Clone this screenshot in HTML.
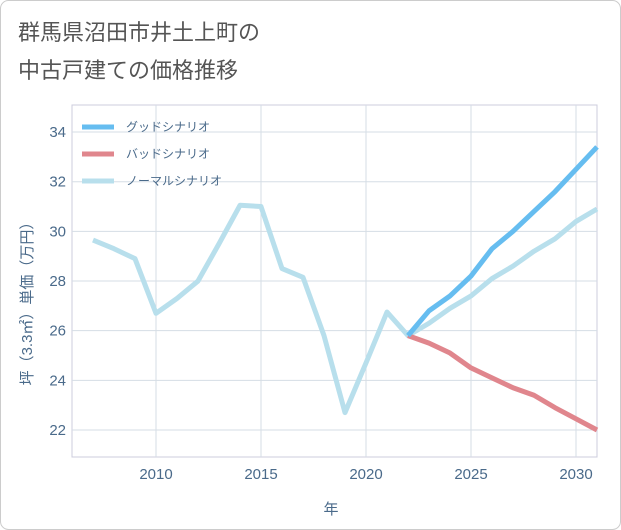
<!DOCTYPE html>
<html><head><meta charset="utf-8"><style>
body{margin:0;background:#fff;}
svg{display:block;font-family:"Liberation Sans","Noto Sans CJK JP",sans-serif;}
</style></head><body>
<svg id="c" width="621" height="530">
<rect x="0.5" y="0.5" width="620" height="529" rx="8" fill="#fff" stroke="#ccc"/>
<text x="18" y="40" font-size="22" fill="#555">群馬県沼田市井土上町の</text>
<text x="18" y="78" font-size="22" fill="#555">中古戸建ての価格推移</text>
<g id="grid"></g><g id="series"></g><g id="legend"></g>
<text x="331" y="514" font-size="15" fill="#4a6a8a" text-anchor="middle">年</text>
<text transform="translate(32,300) rotate(-90)" font-size="15" fill="#4a6a8a" text-anchor="middle">坪（3.3㎡）単価（万円）</text>
</svg>
<script>
const years=[2007,2008,2009,2010,2011,2012,2013,2014,2015,2016,2017,2018,2019,2020,2021,2022,2023,2024,2025,2026,2027,2028,2029,2030,2031];
const normalVals=[29.65,29.3,28.9,26.7,27.3,28.0,29.5,31.05,31.0,28.5,28.15,25.8,22.7,24.7,26.75,25.8,26.3,26.9,27.4,28.1,28.6,29.2,29.7,30.4,30.9];
const futureYears=[2022,2023,2024,2025,2026,2027,2028,2029,2030,2031];
const goodVals=[25.8,26.8,27.4,28.2,29.3,30.0,30.8,31.6,32.5,33.4];
const badVals=[25.8,25.5,25.1,24.5,24.1,23.7,23.4,22.9,22.45,22.0];
const xTicks=[2010,2015,2020,2025,2030];
const yTicks=[22,24,26,28,30,32,34];
const NS="http://www.w3.org/2000/svg";
const L=72,R=597,T=105,B=457;
const xs=y=>156+(y-2010)*21;
const ys=v=>430-(v-22)*24.83;
function mk(tag,attrs,parent){const e=document.createElementNS(NS,tag);for(const k in attrs)e.setAttribute(k,attrs[k]);parent.appendChild(e);return e;}
const g=document.getElementById('grid');
mk('rect',{x:L,y:T,width:R-L,height:B-T,fill:'none',stroke:'#ccd'},g);
xTicks.forEach(t=>{
 const l=mk('line',{x1:xs(t),x2:xs(t),y1:T,y2:B,stroke:'#d5dde5'},g);
 
 
 const tx=mk('text',{x:xs(t),y:B+22,'font-size':15,fill:'#4a6a8a','text-anchor':'middle'},g);tx.textContent=t;
 
 
});
yTicks.forEach(t=>{
 const l=mk('line',{x1:L,x2:R,y1:ys(t),y2:ys(t),stroke:'#d5dde5'},g);
 
 
 const tx=mk('text',{x:L-6,y:ys(t)+5,'font-size':15,fill:'#4a6a8a','text-anchor':'end'},g);tx.textContent=t;
 
 
});
const s=document.getElementById('series');
function line(xv,yv,color,name){
 const d=xv.map((x,i)=>(i?'L':'M')+xs(x)+','+ys(yv[i])).join(' ');
 const p=mk('path',{d:d,fill:'none',stroke:color,'stroke-width':5,'stroke-linejoin':'round'},s);
 
 
}
line(years,normalVals,'#b8dfec','normal-scenario-line');
line(futureYears,badVals,'#e0868d','bad-scenario-line');
line(futureYears,goodVals,'#66bdf0','good-scenario-line');
const lg=document.getElementById('legend');
[['グッドシナリオ','#66bdf0'],['バッドシナリオ','#e0868d'],['ノーマルシナリオ','#b8dfec']].forEach((e,i)=>{
 const y=127+i*27;
 const l=mk('line',{x1:82,x2:114,y1:y,y2:y,stroke:e[1],'stroke-width':5},lg);
 
 
 const tx=mk('text',{x:126,y:y+4,'font-size':12,fill:'#4a6a8a'},lg);tx.textContent=e[0];
 
 
});
</script>
</body></html>
